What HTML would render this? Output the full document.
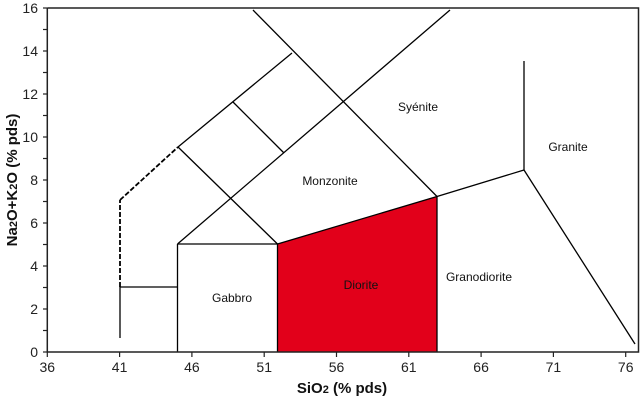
<!DOCTYPE html>
<html><head><meta charset="utf-8"><style>
html,body{margin:0;padding:0;background:#fff;}
svg{display:block;font-family:"Liberation Sans",Arial,sans-serif;}
</style></head><body>
<svg width="640" height="403" viewBox="0 0 640 403" xmlns="http://www.w3.org/2000/svg">
<rect width="640" height="403" fill="#fff"/>
<polygon points="277.5,244 437,196.5 437,352 277.5,352" fill="#e2001a"/>
<g stroke="#000" stroke-width="1.3" fill="none">
<polyline points="120,338 120,287 177.5,287"/>
<line x1="120" y1="287" x2="120" y2="200" stroke-dasharray="5,2" stroke-width="1.8"/>
<line x1="120" y1="200" x2="178" y2="147" stroke-dasharray="5,2" stroke-width="1.8"/>
<polyline points="178,147 292,53"/>
<line x1="177.5" y1="352" x2="177.5" y2="244"/>
<line x1="177.5" y1="244" x2="277.5" y2="244"/>
<line x1="277.5" y1="244" x2="277.5" y2="352"/>
<line x1="437" y1="196.5" x2="437" y2="352"/>
<line x1="277.5" y1="244" x2="437" y2="196.5"/>
<line x1="177.5" y1="244" x2="450" y2="10"/>
<line x1="178" y1="147" x2="277.5" y2="244"/>
<line x1="253" y1="10" x2="437" y2="196.5"/>
<line x1="233" y1="102" x2="284" y2="153"/>
<line x1="437" y1="196.5" x2="524" y2="170"/>
<line x1="524" y1="170" x2="524" y2="61"/>
<line x1="524" y1="170" x2="635" y2="344"/>
</g>
<g stroke="#222" stroke-width="1.5" fill="none">
<polyline points="47.3,8 638.5,8 638.5,352 47.3,352 47.3,8"/>
</g>
<g stroke="#222" stroke-width="1.2">
<line x1="47.3" y1="352" x2="47.3" y2="357"/>
<line x1="119.6" y1="352" x2="119.6" y2="357"/>
<line x1="191.9" y1="352" x2="191.9" y2="357"/>
<line x1="264.2" y1="352" x2="264.2" y2="357"/>
<line x1="336.5" y1="352" x2="336.5" y2="357"/>
<line x1="408.8" y1="352" x2="408.8" y2="357"/>
<line x1="481.1" y1="352" x2="481.1" y2="357"/>
<line x1="553.4" y1="352" x2="553.4" y2="357"/>
<line x1="625.7" y1="352" x2="625.7" y2="357"/>
<line x1="43" y1="352" x2="47.3" y2="352"/><line x1="43" y1="330.5" x2="47.3" y2="330.5"/>
<line x1="43" y1="309" x2="47.3" y2="309"/><line x1="43" y1="287.5" x2="47.3" y2="287.5"/>
<line x1="43" y1="266" x2="47.3" y2="266"/><line x1="43" y1="244.5" x2="47.3" y2="244.5"/>
<line x1="43" y1="223" x2="47.3" y2="223"/><line x1="43" y1="201.5" x2="47.3" y2="201.5"/>
<line x1="43" y1="180" x2="47.3" y2="180"/><line x1="43" y1="158.5" x2="47.3" y2="158.5"/>
<line x1="43" y1="137" x2="47.3" y2="137"/><line x1="43" y1="115.5" x2="47.3" y2="115.5"/>
<line x1="43" y1="94" x2="47.3" y2="94"/><line x1="43" y1="72.5" x2="47.3" y2="72.5"/>
<line x1="43" y1="51" x2="47.3" y2="51"/><line x1="43" y1="29.5" x2="47.3" y2="29.5"/>
<line x1="43" y1="8" x2="47.3" y2="8"/>
</g>
<g font-size="14" fill="#222" text-anchor="middle">
<text x="47.3" y="372">36</text><text x="119.6" y="372">41</text><text x="191.9" y="372">46</text>
<text x="264.2" y="372">51</text><text x="336.5" y="372">56</text><text x="408.8" y="372">61</text>
<text x="481.1" y="372">66</text><text x="553.4" y="372">71</text><text x="625.7" y="372">76</text>
</g>
<g font-size="14" fill="#222" text-anchor="end">
<text x="38" y="357">0</text><text x="38" y="314">2</text><text x="38" y="271">4</text>
<text x="38" y="228">6</text><text x="38" y="185">8</text><text x="38" y="142">10</text>
<text x="38" y="99">12</text><text x="38" y="56">14</text><text x="38" y="13">16</text>
</g>
<text x="342" y="393" font-size="15" font-weight="bold" text-anchor="middle" fill="#111">SiO<tspan font-size="11">2</tspan> (% pds)</text>
<text transform="translate(17,180) rotate(-90)" font-size="15" font-weight="bold" text-anchor="middle" fill="#111">Na<tspan font-size="11">2</tspan>O+K<tspan font-size="11">2</tspan>O (% pds)</text>
<g font-size="12" fill="#111" text-anchor="middle">
<text x="418" y="111">Syénite</text>
<text x="568" y="151">Granite</text>
<text x="330" y="185">Monzonite</text>
<text x="361" y="289">Diorite</text>
<text x="232" y="302">Gabbro</text>
<text x="479" y="281">Granodiorite</text>
</g>
</svg>
</body></html>
